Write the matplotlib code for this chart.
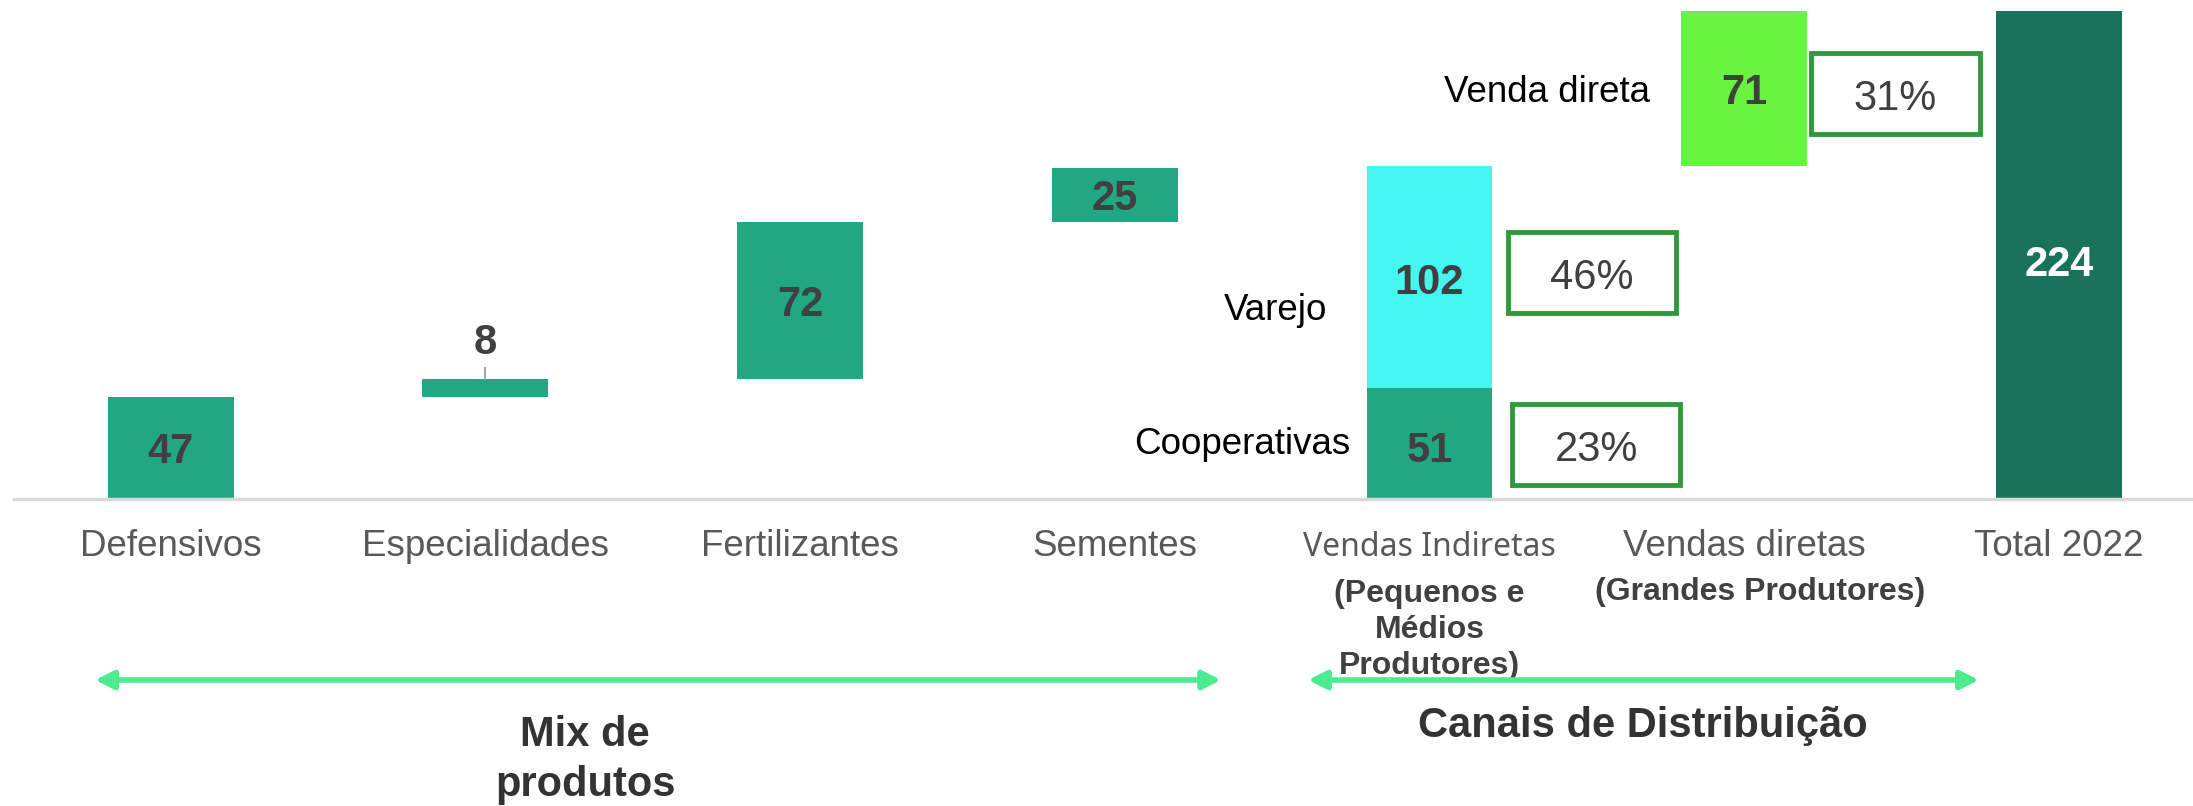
import numpy as np
import matplotlib
matplotlib.use('Agg')
import matplotlib.pyplot as plt
import matplotlib.transforms as mtransforms
from matplotlib.patches import Rectangle

plt.rcParams['font.family'] = ['Liberation Sans', 'DejaVu Sans']

# data
categories = ['Defensivos', 'Especialidades', 'Fertilizantes', 'Sementes',
              'Vendas Indiretas', 'Vendas diretas', 'Total 2022']
mix_values = [47, 8, 72, 25]
indireta_names = ['Cooperativas', 'Varejo']
indireta_values = [51, 102]
direta_name = 'Venda direta'
direta_value = 71
total_value = 224
share_labels = ['23%', '46%', '31%']
sub_labels = ['(Pequenos e\nMédios\nProdutores)', '(Grandes Produtores)']
group_labels = ['Mix de\nprodutos', 'Canais de Distribuição']

c_mid = '#21a883'
c_dark = '#19735a'
c_cyan = '#45f5f0'
c_lime = '#67f542'
c_box = '#2e9a3c'
c_arrow = '#4deb8f'
c_txt = '#404040'

W, H = 2193, 806
fig = plt.figure(figsize=(W / 100, H / 100), dpi=100)
ax = fig.add_axes([14 / W, 307 / H, 1 - 14 / W, 488 / H])
ax.set_ylim(0, total_value)
ax.set_xlim(-0.4976, 6.426)
for s in ['left', 'right', 'top']:
    ax.spines[s].set_visible(False)
ax.spines['bottom'].set_color('#d9d9d9')
ax.spines['bottom'].set_linewidth(2.5)
ax.set_xticks([])
ax.set_yticks([])

x = np.arange(len(categories))
bw = 0.4
dy = -2  # small nudge so labels sit like the original

# mix de produtos (floating waterfall)
bottoms = np.concatenate([[0], np.cumsum(mix_values)[:-1]])
ax.bar(x[:4], mix_values, bottom=bottoms, width=bw, color=c_mid)
for i, (b, v) in enumerate(zip(bottoms, mix_values)):
    if v < 15:
        top = b + v
        ax.plot([x[i], x[i]], [top, top + 5], color='#a6a6a6', lw=1.5)
        ax.text(x[i], top + 18.5 + dy, str(v), ha='center', va='center',
                fontsize=30, fontweight='bold', color=c_txt)
    else:
        ax.text(x[i], b + v / 2 + dy, str(v), ha='center', va='center',
                fontsize=30, fontweight='bold', color=c_txt)

# vendas indiretas (stacked)
ind_bottoms = [0, indireta_values[0]]
ax.bar(x[4], indireta_values[0], bottom=0, width=bw, color=c_mid)
ax.bar(x[4], indireta_values[1], bottom=indireta_values[0], width=bw, color=c_cyan)
ind_offsets = [-1.5, -1]
name_offsets = [1.5, -13.5]
name_x = [3.75, 3.675]
for b, v, n, o, no, nx in zip(ind_bottoms, indireta_values, indireta_names,
                              ind_offsets, name_offsets, name_x):
    ax.text(x[4], b + v / 2 + o + dy, str(v), ha='center', va='center',
            fontsize=30, fontweight='bold', color=c_txt)
    ax.text(nx, b + v / 2 + no + dy, n, ha='right', va='center', fontsize=26.5, color='black')

# vendas diretas
ind_total = sum(indireta_values)
ax.bar(x[5], direta_value, bottom=ind_total, width=bw, color=c_lime)
ax.text(x[5], ind_total + direta_value / 2 + dy, str(direta_value), ha='center', va='center',
        fontsize=30, fontweight='bold', color=c_txt)
ax.text(4.70, ind_total + direta_value / 2 + dy, direta_name, ha='right', va='center',
        fontsize=26.5, color='black')

# total
ax.bar(x[6], total_value, width=bw, color=c_dark)
ax.text(x[6], total_value / 2 - 2.5 + dy, str(total_value), ha='center', va='center',
        fontsize=30, fontweight='bold', color='white')

# share boxes
boxes = [(4.262, 6.4), (4.248, 85.3), (5.213, 167.5)]
bw_box, bh_box = 0.535, 37.2
for (bx, by), lab in zip(boxes, share_labels):
    ax.add_patch(Rectangle((bx, by), bw_box, bh_box, fill=False, edgecolor=c_box,
                           lw=3.5, clip_on=False))
    ax.text(bx + bw_box / 2, by + bh_box / 2 - 2.6, lab, ha='center', va='center',
            fontsize=30, color=c_txt)

# category labels
tr = mtransforms.blended_transform_factory(ax.transData, fig.transFigure)
for i, c in enumerate(categories):
    if i == 4:
        ax.text(x[i], 1 - 548 / H, c, transform=tr, ha='center', va='center',
                fontsize=23, color='#595959', family='Noto Sans')
    else:
        ax.text(x[i], 1 - 547 / H, c, transform=tr, ha='center', va='center',
                fontsize=26.5, color='#595959')
ax.text(x[4], 1 - 630 / H, sub_labels[0], transform=tr, ha='center', va='center',
        fontsize=23, fontweight='bold', color=c_txt, linespacing=1.28)
ax.text(x[5] + 0.05, 1 - 592 / H, sub_labels[1], transform=tr, ha='center', va='center',
        fontsize=23, fontweight='bold', color=c_txt)

# group arrows
arrow_y = 1 - 680 / H
for x0, x1 in [(-0.24, 3.338), (3.614, 5.746)]:
    ax.annotate('', xy=(x1, arrow_y), xytext=(x0, arrow_y), xycoords=tr, textcoords=tr,
                annotation_clip=False,
                arrowprops=dict(arrowstyle='<|-|>', color=c_arrow, lw=4,
                                mutation_scale=27, shrinkA=0, shrinkB=0))
ax.text(1.317, 1 - 760 / H, group_labels[0], transform=tr, ha='center', va='center',
        fontsize=30, fontweight='bold', color='#333333', linespacing=1.3)
ax.text(4.679, 1 - 726 / H, group_labels[1], transform=tr, ha='center', va='center',
        fontsize=30, fontweight='bold', color='#333333')

fig.savefig('out.png', dpi=100, facecolor='white')
